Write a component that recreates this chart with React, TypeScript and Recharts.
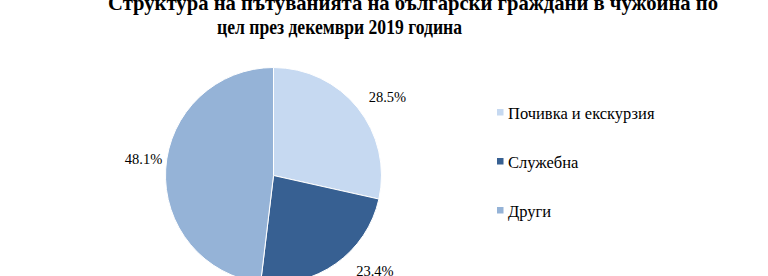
import React from "react";
import { PieChart, Pie, Cell } from "recharts";

const categories = ["Почивка и екскурзия", "Служебна", "Други"];
const shares = [28.5, 23.4, 48.1];
const colors = ["#C6D9F1", "#376092", "#95B3D7"];
const titleLines = [
  "Структура на пътуванията на български граждани в чужбина по",
  "цел през декември 2019 година",
];

const data = categories.map((name, i) => ({ name, value: shares[i] }));

const RAD = Math.PI / 180;
const FONT = "'Liberation Serif', 'Times New Roman', serif";
const CHART_H = 276;

const renderLabel = (props: any) => {
  const { cx, cy, midAngle, outerRadius, value } = props;
  const ang = midAngle - 4;
  const cos = Math.cos(-ang * RAD);
  const sin = Math.sin(-ang * RAD);
  const d = outerRadius - 1 + 21 * Math.abs(cos) + 25 * Math.abs(sin);
  let lx = cx + d * cos;
  let ly = cy + d * sin;
  const maxY = CHART_H - 5;
  if (ly > maxY) {
    const dy = maxY - cy;
    const dx = Math.sqrt(Math.max(d * d - dy * dy, 0));
    lx = cx + (cos >= 0 ? dx : -dx);
    ly = maxY;
  }
  return (
    <text
      x={lx}
      y={ly + 5}
      textAnchor="middle"
      fill="#000"
      fontSize={14.5}
      fontFamily={FONT}
    >
      {value.toFixed(1) + "%"}
    </text>
  );
};

export default function App() {
  return (
    <div style={{ position: "absolute", left: 0, top: 0, width: 768, height: 276, background: "#fff", overflow: "hidden" }}>
      <PieChart width={768} height={276} margin={{ top: 0, right: 0, bottom: 0, left: 0 }}>
        <Pie
          data={data}
          dataKey="value"
          nameKey="name"
          cx={273.5}
          cy={175.5}
          outerRadius={108}
          startAngle={90}
          endAngle={-270}
          stroke="#fff"
          strokeWidth={1}
          label={renderLabel}
          labelLine={false}
          isAnimationActive={false}
        >
          {data.map((d, i) => (
            <Cell key={d.name} fill={colors[i]} />
          ))}
        </Pie>
      </PieChart>
      <svg width={768} height={276} style={{ position: "absolute", left: 0, top: 0, pointerEvents: "none" }}>
        <text x={108} y={10} fontFamily={FONT} fontWeight="bold" fontSize={21} fill="#000" textLength={610} lengthAdjust="spacingAndGlyphs">
          {titleLines[0]}
        </text>
        <text x={217} y={34} fontFamily={FONT} fontWeight="bold" fontSize={21} fill="#000" textLength={245} lengthAdjust="spacingAndGlyphs">
          {titleLines[1]}
        </text>
        {categories.map((name, i) => (
          <g key={name}>
            <rect x={497} y={109 + i * 49} width={6.5} height={6.5} fill={colors[i]} />
            <text x={508} y={118.7 + i * 49} fontFamily={FONT} fontSize={16.5} fill="#000">
              {name}
            </text>
          </g>
        ))}
      </svg>
    </div>
  );
}
